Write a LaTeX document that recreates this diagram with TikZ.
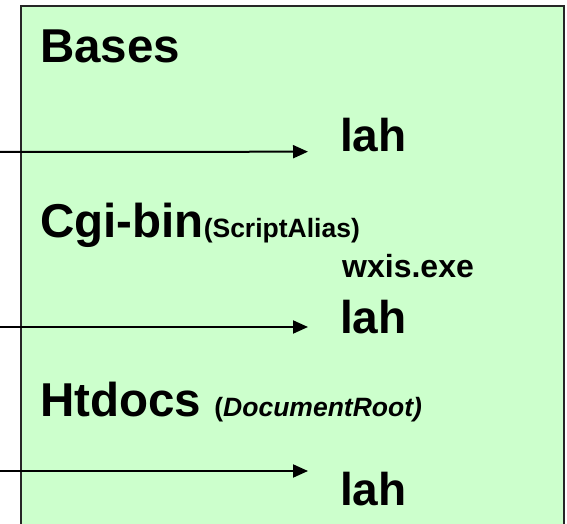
\documentclass[tikz,border=0pt]{standalone}
\usepackage{fontspec}
\setmainfont{Liberation Sans}
\usetikzlibrary{arrows.meta}
\definecolor{boxgreen}{RGB}{204,255,204}

\begin{document}
\begin{tikzpicture}[x=1pt, y=1pt,
		dirname/.style={anchor=base west, inner sep=0pt, font=\fontsize{47.5}{52}\selectfont\bfseries},
		target/.style={anchor=base west, inner sep=0pt, font=\fontsize{46}{50}\selectfont\bfseries},
		filename/.style={anchor=base west, inner sep=0pt, font=\fontsize{32}{36}\selectfont\bfseries},
		feed/.style={-{Triangle[length=15pt, width=13pt]}, line width=2pt, black}]
			\useasboundingbox (0,0) rectangle (567,524);
			\begin{scope}
				\clip (0,0) rectangle (567,524);
				\filldraw[fill=boxgreen, draw=black!85, line width=2pt] (21,-10) rectangle (564,517.5);
			\end{scope}
			
			\node[dirname] (bases) at (40, 461) {Bases};
			\node[target] (lah1) at (340, 372.3) {lah};
			
			\node[dirname] (cgi) at (40, 286) {Cgi-bin{\fontsize{26.5}{30}\selectfont(ScriptAlias)}};
			\node[filename] (wxis) at (342, 246) {wxis.exe};
			\node[target] (lah2) at (340, 190) {lah};
			
			\node[dirname] (htdocs) at (40, 107) {Htdocs {\fontsize{26.5}{30}\selectfont(\textit{DocumentRoot)}}};
			\node[target] (lah3) at (340, 18) {lah};
			
			\coordinate (src1) at (0, 372);
			\coordinate (src2) at (0, 197);
			\coordinate (src3) at (0, 53);
			\draw[feed] (src1) -- ([xshift=-32pt]lah1.base west);
			\draw[feed] (src2) -- ([shift={(-32pt,7pt)}]lah2.base west);
			\draw[feed] (src3) -- ([shift={(-32pt,35pt)}]lah3.base west);
			
		\end{tikzpicture}
\end{document}
